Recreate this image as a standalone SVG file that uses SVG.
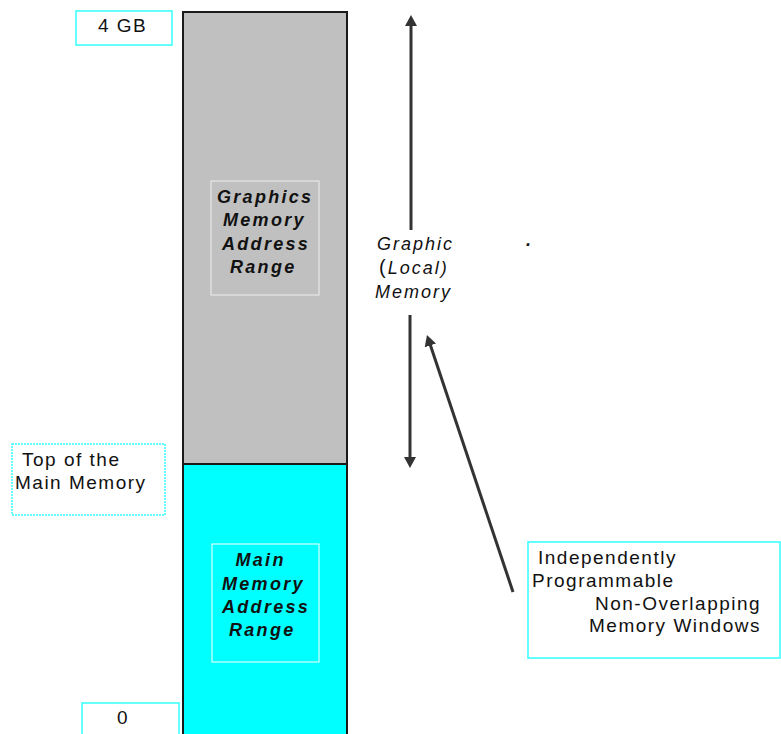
<svg xmlns="http://www.w3.org/2000/svg" width="781" height="734" viewBox="0 0 781 734">
<style>
.lbl{font-family:"Liberation Sans",Arial,sans-serif;font-size:19px;letter-spacing:1.5px;fill:#111}
.rng{font-family:"Liberation Sans",Arial,sans-serif;font-size:18px;font-weight:bold;font-style:italic;letter-spacing:2.3px;fill:#111}
.gl{font-family:"Liberation Sans",Arial,sans-serif;font-size:18px;font-style:italic;letter-spacing:2px;fill:#111}
.cbox{fill:#fff;stroke:#33ffff;stroke-width:1.5}
.conn{stroke:#333;stroke-width:3;fill:none;marker-end:url(#ah)}
</style>
<defs>
<marker id="ah" viewBox="0 0 11 12" refX="3" refY="6" markerWidth="11" markerHeight="12" markerUnits="userSpaceOnUse" orient="auto">
<path d="M0,0 L11,6 L0,12 z" fill="#333"/>
</marker>
</defs>
<rect width="781" height="734" fill="#fff"/>
<g id="column">
<rect x="183" y="12" width="164" height="452" fill="#c0c0c0" stroke="#1a1a1a" stroke-width="2"/>
<rect x="183" y="464" width="164" height="280" fill="#00ffff" stroke="#1a1a1a" stroke-width="2"/>
</g>
<g id="graphics-range">
<rect x="211" y="181" width="108" height="114" fill="#c0c0c0" stroke="#eeeeee" stroke-width="1"/>
<text class="rng" x="217" y="203">Graphics</text>
<text class="rng" x="223" y="226">Memory</text>
<text class="rng" x="222" y="250">Address</text>
<text class="rng" x="230" y="273">Range</text>
</g>
<g id="main-range">
<rect x="212" y="544" width="107" height="118" fill="#00ffff" stroke="#ffffff" stroke-width="1"/>
<text class="rng" x="235.5" y="566">Main</text>
<text class="rng" x="222" y="590">Memory</text>
<text class="rng" x="222" y="613">Address</text>
<text class="rng" x="229" y="636">Range</text>
</g>
<g id="label-4gb">
<rect class="cbox" x="76" y="11" width="96" height="34"/>
<text class="lbl" x="98" y="32">4 GB</text>
</g>
<g id="label-top-main">
<rect class="cbox" x="12" y="444" width="153" height="71" stroke-dasharray="2,1"/>
<text class="lbl" x="22" y="466">Top of the</text>
<text class="lbl" x="15" y="489">Main Memory</text>
</g>
<g id="label-zero">
<rect class="cbox" x="82" y="703" width="97" height="40"/>
<text class="lbl" x="117" y="724">0</text>
</g>
<g id="label-graphic">
<text class="gl" x="377" y="250">Graphic</text>
<text class="gl" x="379" y="274"><tspan font-style="normal" font-size="20">(</tspan>Local)</text>
<text class="gl" x="375" y="298">Memory</text>
<text class="gl" x="526" y="246" font-weight="bold" font-size="20">.</text>
</g>
<g id="label-windows">
<rect class="cbox" x="528" y="542" width="252" height="116"/>
<text class="lbl" x="538" y="564">Independently</text>
<text class="lbl" x="532" y="587">Programmable</text>
<text class="lbl" x="595" y="610">Non-Overlapping</text>
<text class="lbl" x="589" y="632">Memory Windows</text>
</g>
<g id="connectors">
<line class="conn" x1="411" y1="230" x2="411" y2="23"/>
<line class="conn" x1="410" y1="315" x2="410" y2="460"/>
<line class="conn" x1="513" y1="592" x2="429.5" y2="342.6"/>
</g>
</svg>
